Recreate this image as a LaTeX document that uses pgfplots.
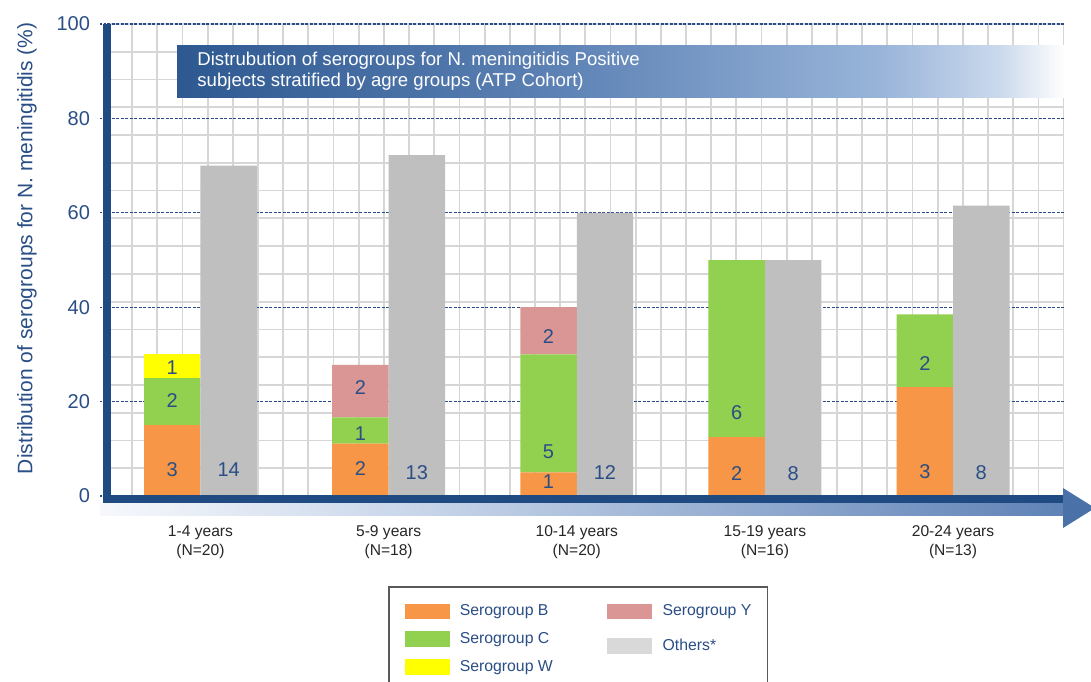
\documentclass[border=0pt]{standalone}
\usepackage{fontspec}
\setmainfont{Liberation Sans}
\usepackage{pgfplots}
\usepackage{pgfplotstable}
\pgfplotsset{compat=1.18}

\definecolor{axblue}{HTML}{1F4A82}
\definecolor{tblue}{HTML}{2A4E86}
\definecolor{gblue}{HTML}{2B4A8A}
\definecolor{cB}{HTML}{F79646}
\definecolor{cC}{HTML}{92D050}
\definecolor{cW}{HTML}{FFFF00}
\definecolor{cY}{HTML}{D99694}
\definecolor{cO}{HTML}{BFBFBF}
\definecolor{cOl}{HTML}{D9D9D9}
\definecolor{gridgray}{HTML}{D6D6D6}
\definecolor{t0}{HTML}{2D5890}
\definecolor{t1}{HTML}{5D82B5}
\definecolor{t2}{HTML}{98B4D9}
\definecolor{t3}{HTML}{CBD9EC}
\definecolor{b0}{HTML}{F6F8FC}
\definecolor{b1}{HTML}{C5D3E8}
\definecolor{b2}{HTML}{5F82B6}
\definecolor{arrowblue}{HTML}{4A71A8}

\tikzset{vl/.style={font=\fontsize{10}{12}\selectfont, text=tblue}}

% percentages of positive subjects per age group
\pgfplotstableread{
x    B     C     W    Y
0.85 15.00 10.00 5.00 0
1.85 11.11 5.56  0    11.11
2.85 5.00  25.00 0    10.00
3.85 12.50 37.50 0    0
4.85 23.08 15.38 0    0
}\stacktab
\pgfplotstableread{
x    O
1.15 70.00
2.15 72.22
3.15 60.00
4.15 50.00
5.15 61.54
}\othertab

\pgfplotsset{base/.style={scale only axis, width=478.25pt, height=236pt,
  at={(53.5pt,-248pt)}, anchor=south west,
  xmin=0.5031, xmax=5.5871, ymin=0, ymax=100}}

\begin{document}
\begin{tikzpicture}
\begin{axis}[base,
  ybar stacked, bar width=0.3,
  axis line style={draw=none},
  tick pos=left, tick align=outside,
  major tick length=3.5pt, minor tick length=0pt,
  xtick={1,2,3,4,5},
  xticklabels={{1-4 years\\(N=20)},{5-9 years\\(N=18)},{10-14 years\\(N=20)},{15-19 years\\(N=16)},{20-24 years\\(N=13)}},
  xticklabel style={align=center, font=\fontsize{7.8}{9.5}\selectfont, text=black!85, yshift=-8pt},
  xtick style={draw=none},
  ytick={0,20,40,60,80,100},
  yticklabel style={font=\fontsize{10}{12}\selectfont, text=tblue, xshift=-1.5pt},
  /pgf/number format/assume math mode=true,
  ytick style={draw=gblue, line width=0.6pt, dash pattern=on 1.2pt off 0.6pt},
  minor xtick={0.5031,0.6369,...,5.59},
  minor ytick={5.882,11.765,17.647,23.529,29.412,35.294,41.176,47.059,52.941,58.824,64.706,70.588,76.471,82.353,88.235,94.118,100},
  xminorgrids=true, yminorgrids=true, ymajorgrids=true, xmajorgrids=false,
  minor grid style={draw=gridgray, line width=0.9pt},
  major grid style={draw=gblue, line width=0.6pt, dash pattern=on 1.5pt off 0.75pt},
  ylabel={Distribution of serogroups for N. meningitidis (\%)},
  ylabel style={at={(axis description cs:-0.0836,0.525)}, anchor=center, font=\fontsize{10.5}{12}\selectfont, text=tblue},
]
\addplot[fill=cB, draw=none] table[x=x, y=B] {\stacktab};
\addplot[fill=cC, draw=none] table[x=x, y=C] {\stacktab};
\addplot[fill=cW, draw=none] table[x=x, y=W] {\stacktab};
\addplot[fill=cY, draw=none] table[x=x, y=Y] {\stacktab};
\end{axis}

\begin{axis}[base, hide axis, ybar, bar width=0.3]
\addplot[fill=cO, draw=none] table[x=x, y=O] {\othertab};
\node[vl] at (axis cs:1.15,5.5) {14};
\node[vl] at (axis cs:2.15,4.9) {13};
\node[vl] at (axis cs:3.15,4.9) {12};
\node[vl] at (axis cs:4.15,4.8) {8};
\node[vl] at (axis cs:5.15,4.9) {8};
\node[vl] at (axis cs:0.85,5.5) {3};
\node[vl] at (axis cs:0.85,20.3) {2};
\node[vl] at (axis cs:0.85,27.3) {1};
\node[vl] at (axis cs:1.85,5.9) {2};
\node[vl] at (axis cs:1.85,13.3) {1};
\node[vl] at (axis cs:1.85,22.9) {2};
\node[vl] at (axis cs:2.85,3.0) {1};
\node[vl] at (axis cs:2.85,9.4) {5};
\node[vl] at (axis cs:2.85,33.8) {2};
\node[vl] at (axis cs:3.85,4.8) {2};
\node[vl] at (axis cs:3.85,17.6) {6};
\node[vl] at (axis cs:4.85,5.1) {3};
\node[vl] at (axis cs:4.85,28.1) {2};
\end{axis}

\begin{axis}[base, hide axis,
  legend columns=2,
  legend image code/.code={\fill[#1] (0pt,-3.9pt) rectangle (22.5pt,3.9pt);},
  legend style={at={(axis description cs:0.2938,-0.1907)}, anchor=north west,
    draw=black!65, line width=0.75pt, fill=white,
    inner xsep=8pt, inner ysep=8.5pt, row sep=6pt,
    font=\fontsize{7.9}{9}\selectfont, text=tblue,
    nodes={inner sep=0pt, text height=6pt, text depth=1.75pt},
    cells={anchor=west},
    /tikz/every odd column/.append style={column sep=5pt},
    /tikz/every even column/.append style={column sep=27pt}},
]
\addlegendimage{fill=cB, draw=none}
\addlegendentry{Serogroup B}
\addlegendimage{fill=cY, draw=none}
\addlegendentry{Serogroup Y}
\addlegendimage{fill=cC, draw=none}
\addlegendentry{Serogroup C}
\addlegendimage{fill=cOl, draw=none, yshift=-3.5pt, overlay}
\addlegendentry[yshift=-3.5pt, overlay]{Others*}
\addlegendimage{fill=cW, draw=none}
\addlegendentry{Serogroup W}
\end{axis}

\begin{scope}[x=0.5pt, y=-0.5pt]
\shade[left color=b0, right color=b1] (100,502) rectangle (441,515);
\shade[left color=b1, right color=b2] (440,502) rectangle (1064,515);
\fill[axblue] (103,495) rectangle (1064,502.5);
\fill[axblue] (103,24) rectangle (110.5,502.5);
\fill[arrowblue] (1063,488) -- (1095,508) -- (1063,528) -- cycle;
\shade[left color=t0, right color=t1] (177,45) rectangle (560.5,97);
\shade[left color=t1, right color=t2] (560,45) rectangle (880.5,97);
\shade[left color=t2, right color=t3] (880,45) rectangle (1000.5,97);
\shade[left color=t3, right color=white] (1000,45) rectangle (1065,97);
\node[anchor=west, text=white, align=left, font=\fontsize{9.3}{10.5}\selectfont, inner sep=0pt]
  at (197,71) {Distrubution of serogroups for N. meningitidis Positive\\subjects stratified by agre groups (ATP Cohort)};
\pgfresetboundingbox
\path[use as bounding box] (0,0) rectangle (1091,681);
\end{scope}
\end{tikzpicture}
\end{document}
